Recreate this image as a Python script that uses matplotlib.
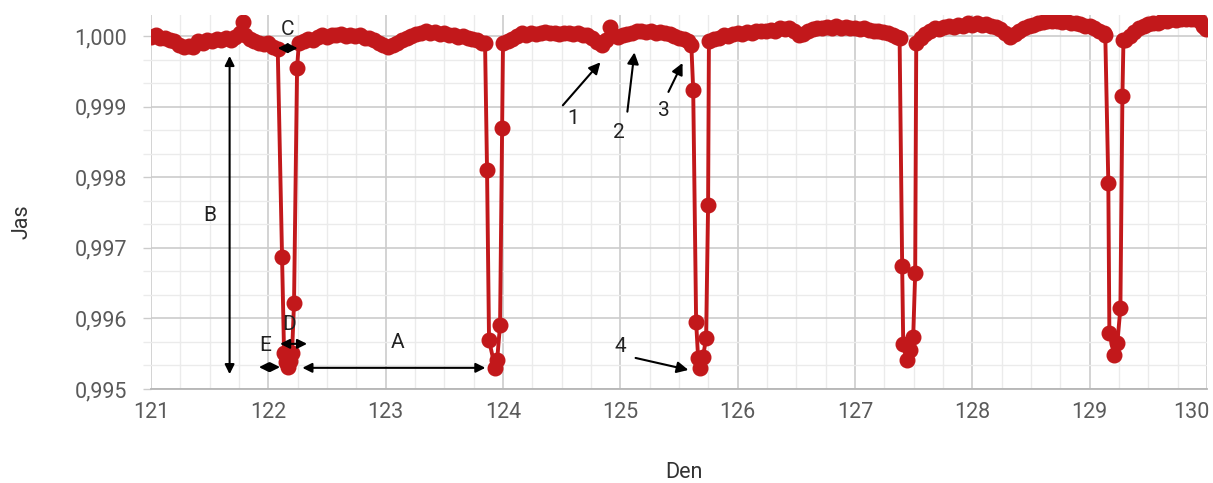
import matplotlib
matplotlib.use("Agg")
import matplotlib.pyplot as plt
from matplotlib.ticker import MultipleLocator, FuncFormatter

plt.rcParams['font.family'] = ['Roboto', 'DejaVu Sans']

# baseline stretches between transits (day, relative brightness)
seg1_t = [121.00, 121.04, 121.08, 121.12, 121.16, 121.20, 121.24, 121.28, 121.32, 121.36,
          121.40, 121.44, 121.48, 121.52, 121.56, 121.60, 121.64, 121.68, 121.72, 121.76,
          121.78, 121.80, 121.84, 121.88, 121.92, 121.96, 122.00, 122.04, 122.08]
seg1_f = [0.99999, 1.00001, 0.99998, 0.99997, 0.99995, 0.99993, 0.99988, 0.99984, 0.99986, 0.99985,
          0.99993, 0.99991, 0.99995, 0.99993, 0.99996, 0.99994, 0.99997, 0.99995, 0.99999, 1.00004,
          1.00020, 1.00002, 0.99996, 0.99993, 0.99991, 0.99989, 0.99990, 0.99985, 0.99982]

tr1_t = [122.117, 122.134, 122.150, 122.168, 122.185, 122.202, 122.219, 122.245]
tr1_f = [0.99687, 0.99551, 0.99538, 0.99531, 0.99540, 0.99551, 0.99622, 0.99955]

seg2_t = [122.26, 122.30, 122.34, 122.38, 122.42, 122.46, 122.50, 122.54, 122.58, 122.62,
          122.66, 122.70, 122.74, 122.78, 122.82, 122.86, 122.90, 122.94, 122.98, 123.02,
          123.06, 123.10, 123.14, 123.18, 123.22, 123.26, 123.30, 123.34, 123.38, 123.42,
          123.46, 123.50, 123.54, 123.58, 123.62, 123.66, 123.70, 123.74, 123.78, 123.82, 123.847]
seg2_f = [0.99990, 0.99993, 0.99996, 0.99995, 0.99999, 1.00001, 0.99999, 1.00002, 1.00001, 1.00003,
          1.00000, 1.00002, 1.00000, 1.00001, 0.99998, 0.99997, 0.99994, 0.99991, 0.99987, 0.99984,
          0.99987, 0.99991, 0.99994, 0.99997, 1.00000, 1.00003, 1.00005, 1.00008, 1.00004, 1.00006,
          1.00003, 1.00004, 1.00001, 1.00002, 0.99999, 1.00000, 0.99997, 0.99996, 0.99994, 0.99991, 0.99990]

tr2_t = [123.864, 123.881, 123.933, 123.950, 123.975, 123.992]
tr2_f = [0.99810, 0.99569, 0.99530, 0.99541, 0.99591, 0.99870]

seg3_t = [124.00, 124.04, 124.08, 124.12, 124.16, 124.20, 124.24, 124.28, 124.32, 124.36,
          124.40, 124.44, 124.48, 124.52, 124.56, 124.60, 124.64, 124.68, 124.72, 124.76,
          124.80, 124.84, 124.88, 124.91, 124.94, 124.98, 125.02, 125.06, 125.10, 125.14,
          125.18, 125.22, 125.26, 125.30, 125.34, 125.38, 125.42, 125.46, 125.50, 125.54,
          125.58, 125.605]
seg3_f = [0.99990, 0.99993, 0.99996, 1.00000, 1.00004, 1.00002, 1.00005, 1.00003, 1.00004, 1.00006,
          1.00004, 1.00005, 1.00003, 1.00005, 1.00004, 1.00003, 1.00004, 1.00001, 1.00002, 0.99998,
          0.99992, 0.99987, 0.99995, 1.00013, 1.00002, 0.99999, 1.00001, 1.00003, 1.00004, 1.00007,
          1.00008, 1.00006, 1.00007, 1.00005, 1.00006, 1.00004, 1.00003, 1.00000, 0.99998, 0.99996,
          0.99993, 0.99988]

tr3_t = [125.621, 125.646, 125.663, 125.680, 125.705, 125.731, 125.748]
tr3_f = [0.99924, 0.99595, 0.99544, 0.99530, 0.99546, 0.99572, 0.99761]

seg4_t = [125.755, 125.80, 125.84, 125.88, 125.92, 125.96, 126.00, 126.04, 126.08, 126.12,
          126.16, 126.20, 126.24, 126.28, 126.32, 126.36, 126.40, 126.44, 126.48, 126.52,
          126.56, 126.60, 126.64, 126.68, 126.72, 126.76, 126.80, 126.84, 126.88, 126.92,
          126.96, 127.00, 127.04, 127.08, 127.12, 127.16, 127.20, 127.24, 127.28, 127.32,
          127.36, 127.38]
seg4_f = [0.99993, 0.99996, 0.99998, 1.00001, 1.00000, 1.00003, 1.00004, 1.00003, 1.00006, 1.00005,
          1.00007, 1.00008, 1.00007, 1.00009, 1.00008, 1.00011, 1.00010, 1.00012, 1.00008, 1.00002,
          1.00003, 1.00008, 1.00010, 1.00012, 1.00011, 1.00013, 1.00012, 1.00014, 1.00012, 1.00013,
          1.00011, 1.00012, 1.00010, 1.00011, 1.00009, 1.00008, 1.00007, 1.00006, 1.00004, 1.00002,
          0.99999, 0.99997]

tr4_t = [127.402, 127.411, 127.445, 127.471, 127.496, 127.513]
tr4_f = [0.99674, 0.99564, 0.99541, 0.99555, 0.99574, 0.99664]

seg5_t = [127.522, 127.56, 127.60, 127.64, 127.68, 127.72, 127.76, 127.80, 127.84, 127.88,
          127.92, 127.96, 128.00, 128.04, 128.08, 128.12, 128.16, 128.20, 128.24, 128.28,
          128.32, 128.36, 128.40, 128.44, 128.48, 128.52, 128.56, 128.60, 128.64, 128.68,
          128.72, 128.76, 128.80, 128.84, 128.88, 128.92, 128.96, 129.00, 129.04, 129.08,
          129.12, 129.133]
seg5_f = [0.99990, 0.99998, 1.00003, 1.00007, 1.00011, 1.00010, 1.00013, 1.00014, 1.00013, 1.00016,
          1.00015, 1.00018, 1.00016, 1.00018, 1.00016, 1.00017, 1.00014, 1.00013, 1.00010, 1.00005,
          0.99999, 1.00003, 1.00008, 1.00012, 1.00014, 1.00016, 1.00018, 1.00020, 1.00022, 1.00021,
          1.00022, 1.00020, 1.00021, 1.00019, 1.00018, 1.00017, 1.00015, 1.00014, 1.00011, 1.00008,
          1.00005, 1.00002]

tr5_t = [129.159, 129.168, 129.211, 129.236, 129.262, 129.279]
tr5_f = [0.99792, 0.99579, 0.99548, 0.99565, 0.99615, 0.99915]

seg6_t = [129.288, 129.30, 129.34, 129.38, 129.42, 129.46, 129.50, 129.54, 129.58, 129.62,
          129.66, 129.70, 129.74, 129.78, 129.82, 129.86, 129.90, 129.94, 129.97, 129.99]
seg6_f = [0.99994, 0.99995, 1.00000, 1.00006, 1.00011, 1.00015, 1.00017, 1.00019, 1.00018, 1.00021,
          1.00022, 1.00024, 1.00023, 1.00025, 1.00024, 1.00025, 1.00024, 1.00021, 1.00015, 1.00010]

days = seg1_t + tr1_t + seg2_t + tr2_t + seg3_t + tr3_t + seg4_t + tr4_t + seg5_t + tr5_t + seg6_t
flux = seg1_f + tr1_f + seg2_f + tr2_f + seg3_f + tr3_f + seg4_f + tr4_f + seg5_f + tr5_f + seg6_f

red = '#c2181b'
grey_txt = '#5a5a5a'

fig = plt.figure(figsize=(12.13, 4.83), dpi=100)
ax = fig.add_axes([151 / 1213, 1 - 389 / 483, (1207 - 151) / 1213, (389 - 15) / 483])

ax.plot(days, flux, color=red, lw=2.8, marker='o', ms=10.5, mec=red, mfc=red, zorder=3)

ax.set_xlim(121, 130)
ax.set_ylim(0.995, 1.0003)
ax.xaxis.set_major_locator(MultipleLocator(1))
ax.xaxis.set_minor_locator(MultipleLocator(0.25))
ax.yaxis.set_major_locator(MultipleLocator(0.001))
ax.yaxis.set_minor_locator(MultipleLocator(0.001 / 3))
ax.yaxis.set_major_formatter(FuncFormatter(lambda v, p: f"{v:.3f}".replace('.', ',')))
# the last label (130) is drawn separately so it stays inside the figure
ax.xaxis.set_major_formatter(FuncFormatter(lambda v, p: "" if v > 129.5 else f"{v:.0f}"))

ax.grid(which='major', color='#cccccc', lw=1.2)
ax.grid(which='minor', color='#ebebeb', lw=1.0)
ax.set_axisbelow(True)
for s in ['top', 'right', 'left']:
    ax.spines[s].set_visible(False)
ax.spines['bottom'].set_color('#b5b5b5')
ax.spines['bottom'].set_linewidth(1.3)

ax.tick_params(axis='x', which='both', length=0, pad=9, labelsize=15.5, labelcolor=grey_txt)
ax.tick_params(axis='y', which='major', length=6, width=1, color='#cccccc', pad=11,
               labelsize=15.5, labelcolor=grey_txt)
ax.tick_params(axis='y', which='minor', length=6, width=1, color='#ebebeb')

ax.annotate('130', xy=(130, 0), xycoords=ax.get_xaxis_transform(), xytext=(2, -9),
            textcoords='offset points', ha='right', va='top', fontsize=15.5, color=grey_txt)

fig.text(22 / 1213, 1 - 222 / 483, 'Jas', rotation=90, ha='center', va='center',
         fontsize=15.5, color='#333333')
fig.text(684 / 1213, 1 - 472 / 483, 'Den', ha='center', va='center',
         fontsize=15.5, color='#333333')

# annotations
arr = dict(arrowstyle='-|>', color='black', lw=1.5, mutation_scale=17, shrinkA=0, shrinkB=0)
darr = dict(arrowstyle='<|-|>', color='black', lw=1.5, mutation_scale=14, shrinkA=0, shrinkB=0)
tkw = dict(ha='center', va='center', fontsize=15, color='#222222')

# B
ax.annotate('', xy=(121.67, 0.99972), xytext=(121.67, 0.99521), arrowprops=darr)
ax.text(121.50, 0.99746, 'B', **tkw)
# C
ax.annotate('', xy=(122.08, 0.99983), xytext=(122.25, 0.99983), arrowprops=darr)
ax.text(122.16, 1.00010, 'C', **tkw)
# D
ax.annotate('', xy=(122.10, 0.99564), xytext=(122.33, 0.99564), arrowprops=darr)
ax.text(122.18, 0.99591, 'D', **tkw)
# E
ax.annotate('', xy=(121.92, 0.99531), xytext=(122.10, 0.99531), arrowprops=darr)
ax.text(121.97, 0.99562, 'E', **tkw)
# A
ax.annotate('', xy=(122.29, 0.99530), xytext=(123.85, 0.99530), arrowprops=darr)
ax.text(123.10, 0.99566, 'A', **tkw)
# 1..4
ax.annotate('', xy=(124.83, 0.99963), xytext=(124.51, 0.99902), arrowprops=arr)
ax.text(124.60, 0.99884, '1', **tkw)
ax.annotate('', xy=(125.12, 0.99977), xytext=(125.06, 0.99893), arrowprops=arr)
ax.text(124.99, 0.99863, '2', **tkw)
ax.annotate('', xy=(125.53, 0.99962), xytext=(125.41, 0.99921), arrowprops=arr)
ax.text(125.37, 0.99895, '3', **tkw)
ax.annotate('', xy=(125.58, 0.99527), xytext=(125.13, 0.99544), arrowprops=arr)
ax.text(125.00, 0.99560, '4', **tkw)

fig.savefig('out.png', dpi=100)
